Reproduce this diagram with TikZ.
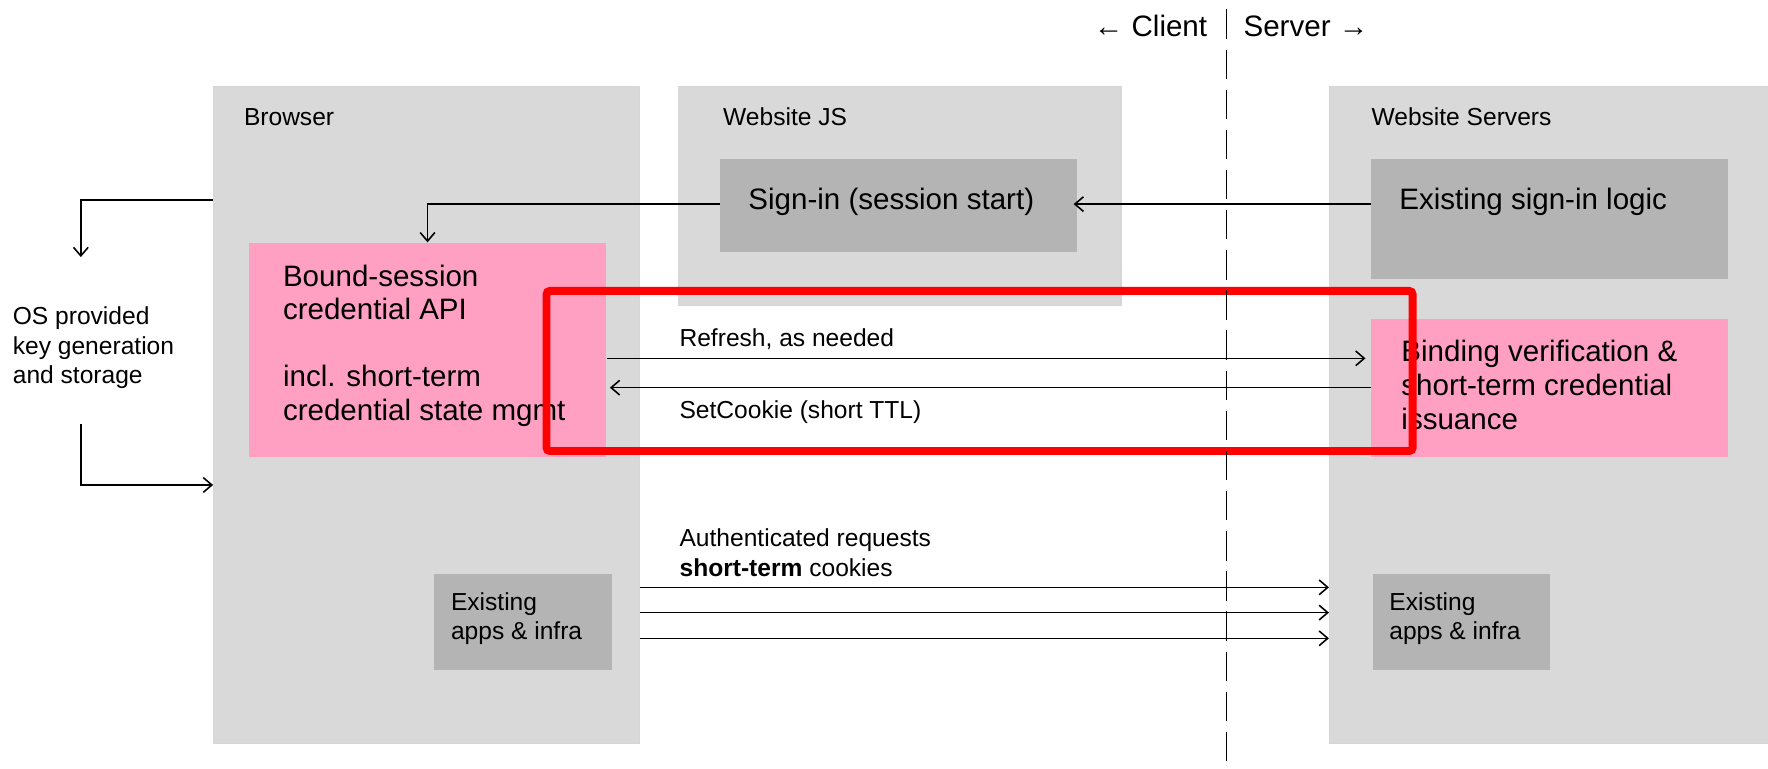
\documentclass[tikz,border=0pt]{standalone}
\usepackage{fontspec}
\setmainfont{Liberation Sans}
\usetikzlibrary{arrows.meta}
\definecolor{lightbox}{HTML}{D9D9D9}
\definecolor{darkbox}{HTML}{B4B4B4}
\definecolor{pinkbox}{HTML}{FF9FC1}
\definecolor{redframe}{HTML}{FF0000}
\begin{document}
\begin{tikzpicture}[x=0.5pt,y=-0.5pt,
  panel/.style={fill=lightbox, draw=black!16, line width=0.5pt, inner sep=0, anchor=north west},
  greybox/.style={fill=darkbox, inner sep=0, anchor=north west},
  pinkb/.style={fill=pinkbox, inner sep=0, anchor=north west},
  smalltxt/.style={font=\fontsize{10.9}{13}\selectfont, inner sep=0, anchor=base west, align=left},
  bigtxt/.style={font=\fontsize{13.1}{14.9}\selectfont, inner sep=0, anchor=base west, align=left},
  conn/.style={line width=0.7pt, -{Straight Barb[length=3.8pt,width=6.5pt]}},
  plain/.style={line width=0.7pt}
]
\useasboundingbox (0,0) rectangle (1568,682);

% containers
\node[panel, minimum width=188.85pt, minimum height=291.45pt] (browser) at (189,76.3) {};
\node[panel, minimum width=196.2pt, minimum height=97.1pt] (js) at (601.3,76.3) {};
\node[panel, minimum width=195.2pt, minimum height=291.45pt] (servers) at (1178.6,76.3) {};

% inner boxes
\node[greybox, minimum width=157.95pt, minimum height=41.1pt] (signin) at (638.5,141) {};
\node[greybox, minimum width=158.35pt, minimum height=52.9pt] (logic) at (1215.6,141) {};
\node[pinkb, minimum width=158.35pt, minimum height=61.05pt] (binding) at (1215.6,282.9) {};
\node[pinkb, minimum width=158.35pt, minimum height=95.05pt] (bound) at (220.4,214.9) {};
\node[greybox, minimum width=78.65pt, minimum height=42.75pt] (appsL) at (384.9,508.7) {};
\node[greybox, minimum width=78.55pt, minimum height=42.75pt] (appsR) at (1217,508.7) {};

% texts (multi-line nodes: base = baseline of last line)
\node[smalltxt] (tbrowser) at (216,110.9) {Browser};
\node[smalltxt] (tjs) at (641,110.9) {Website JS};
\node[smalltxt] (tservers) at (1216,110.9) {Website Servers};
\node[bigtxt] (tsignin) at (663.4,186.2) {Sign-in (session start)};
\node[bigtxt] (tlogic) at (1240.7,186.2) {Existing sign-in logic};
\node[bigtxt] (tbound) at (250.6,373) {Bound-session\\credential API\\[14.9pt]incl. short-term\\credential state mgmt};
\node[bigtxt, font=\fontsize{13.1}{15.2}\selectfont] (tbinding) at (1242.5,381.3) {Binding verification \&\\short-term credential\\issuance};
\node[smalltxt] (tos) at (11,340) {OS provided\\key generation\\and storage};
\node[smalltxt, font=\fontsize{10.9}{12.7}\selectfont] (tappsL) at (399.6,567) {Existing\\apps \& infra};
\node[smalltxt, font=\fontsize{10.9}{12.7}\selectfont] (tappsR) at (1231.8,567) {Existing\\apps \& infra};
\node[smalltxt] (trefresh) at (602.3,307.4) {Refresh, as needed};
\node[smalltxt] (tsetcookie) at (602.3,371) {SetCookie (short TTL)};
\node[smalltxt, font=\fontsize{10.9}{13.3}\selectfont] (tauth) at (602.3,511.4) {Authenticated requests\\\textbf{short-term} cookies};
\node[bigtxt, anchor=base east] (tclient) at (1071,32.5) {← Client};
\node[bigtxt] (tserver) at (1102.5,32.5) {Server →};

% connectors
\coordinate (kout) at (71.7,228);
\coordinate (kin) at (71.7,376);
\draw[conn] (logic.west |- 0,181) -- ([xshift=-1.5pt]signin.east |- 0,181);
\draw[conn] (signin.west |- 0,181) -| (bound.north);
\draw[conn] (browser.west |- 0,177.4) -| (kout);
\draw[conn] (kin) |- (browser.west |- 0,430.1);
\draw[conn, shorten >=2.3pt] (bound.east |- 0,317.8) -- (binding.west |- 0,317.8);
\draw[conn] (binding.west |- 0,343.8) -- ([xshift=1.5pt]bound.east |- 0,343.8);
\draw[conn] (browser.east |- 0,520.9) -- (servers.west |- 0,520.9);
\draw[conn] (browser.east |- 0,543.3) -- (servers.west |- 0,543.3);
\draw[conn] (browser.east |- 0,566.1) -- (servers.west |- 0,566.1);

% highlight frame
\draw[redframe, line width=3.5pt, rounded corners=1.5pt] (484.7,258) rectangle (1252.8,400);

% client/server divider
\coordinate (divtop) at (1087.7,8.3);
\coordinate (divbot) at (1087.7,682);
\draw[line width=0.7pt, dash pattern=on 13pt off 4.8pt] (divtop) -- (divbot);
\end{tikzpicture}
\end{document}
